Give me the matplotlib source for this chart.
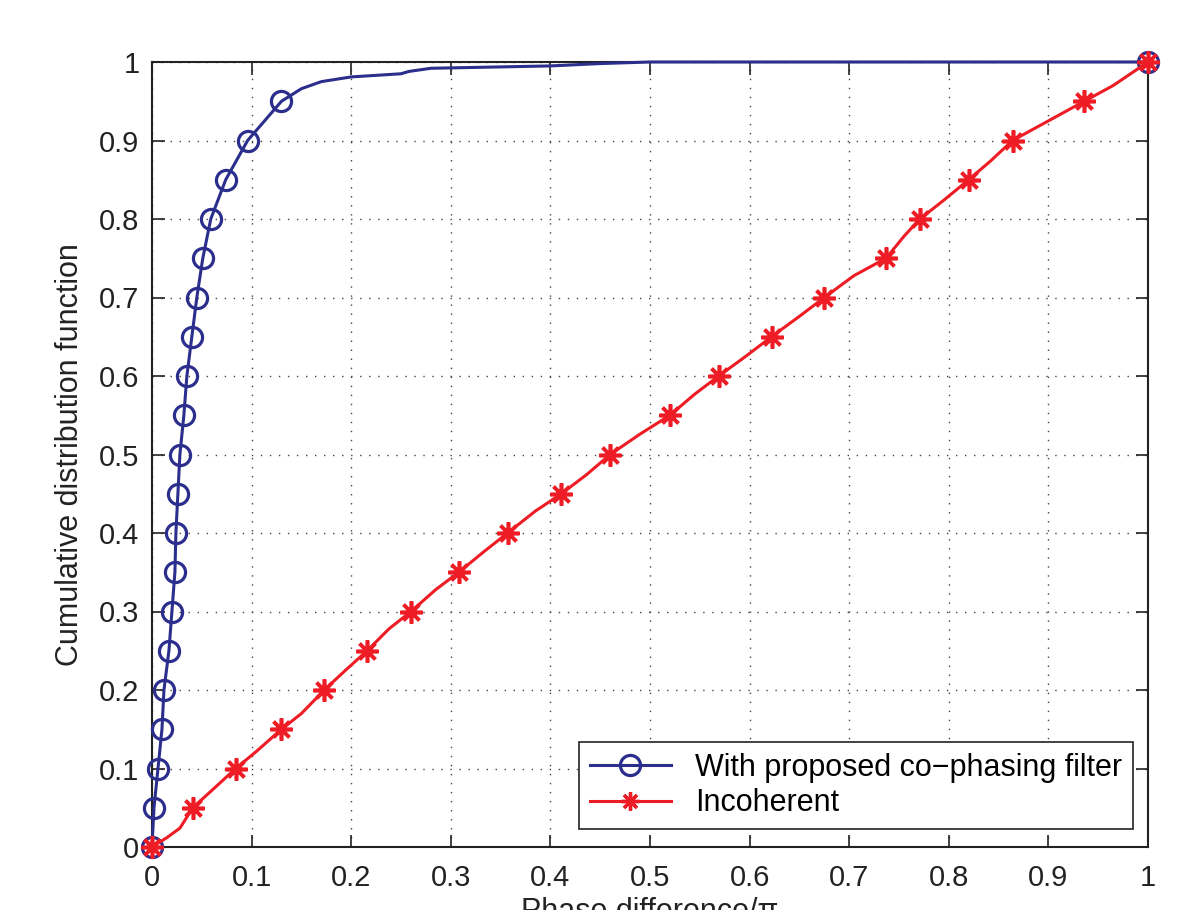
import numpy as np
import matplotlib
matplotlib.use("Agg")
import matplotlib.pyplot as plt
from matplotlib.lines import Line2D

plt.rcParams['font.family'] = ['Liberation Sans', 'DejaVu Sans']

# cdf levels where markers sit
levels = [0, 0.05, 0.1, 0.15, 0.2, 0.25, 0.3, 0.35, 0.4, 0.45, 0.5,
          0.55, 0.6, 0.65, 0.7, 0.75, 0.8, 0.85, 0.9, 0.95, 1.0]

# with proposed co-phasing filter (marker positions)
cophase_x = [0, 0.002, 0.006, 0.010, 0.012, 0.017, 0.020, 0.023, 0.024, 0.026, 0.028,
             0.032, 0.035, 0.040, 0.045, 0.051, 0.059, 0.074, 0.096, 0.130, 1.0]
# curve tail after last marker
cophase_tail_x = [0.150, 0.170, 0.200, 0.250, 0.258, 0.280, 0.400, 0.450, 0.500, 1.0]
cophase_tail_y = [0.966, 0.975, 0.981, 0.985, 0.988, 0.992, 0.995, 0.998, 1.0, 1.0]

# incoherent (marker positions)
incoh_x = [0, 0.041, 0.084, 0.130, 0.173, 0.216, 0.260, 0.308, 0.357, 0.411, 0.460,
           0.520, 0.569, 0.622, 0.675, 0.737, 0.771, 0.820, 0.864, 0.936, 1.0]
# a few extra points along the incoherent curve
incoh_extra_x = [0.015, 0.028, 0.060, 0.105, 0.150, 0.195, 0.238, 0.285, 0.333, 0.385,
                 0.436, 0.490, 0.545, 0.595, 0.650, 0.705, 0.755, 0.795, 0.842, 0.900, 0.965]
incoh_extra_y = [0.012, 0.024, 0.072, 0.122, 0.170, 0.226, 0.278, 0.328, 0.376, 0.428,
                 0.474, 0.526, 0.577, 0.624, 0.676, 0.728, 0.778, 0.824, 0.874, 0.925, 0.970]

xticks = [0, 0.1, 0.2, 0.3, 0.4, 0.5, 0.6, 0.7, 0.8, 0.9, 1]
xticklabels = ['0', '0.1', '0.2', '0.3', '0.4', '0.5', '0.6', '0.7', '0.8', '0.9', '1']

blue = '#2B2E8C'
red = '#EE1C25'

fig = plt.figure(figsize=(11.96, 9.10), dpi=100)
ax = fig.add_axes([152/1196, 63/910, 996/1196, 785/910])

# blue curve: markers then tail
bx = cophase_x[:-1] + cophase_tail_x
by = levels[:-1] + cophase_tail_y
ax.plot(bx, by, color=blue, lw=2.2, clip_on=False, zorder=3)
ax.plot(cophase_x, levels, ls='none', marker='o', ms=14.5, mfc='none', mec=blue,
        mew=2.3, clip_on=False, zorder=4)

# red curve: merge markers with extra points
rpts = sorted(zip(incoh_x + incoh_extra_x, levels + incoh_extra_y))
rx = [p[0] for p in rpts]
ry = [p[1] for p in rpts]
ax.plot(rx, ry, color=red, lw=2.2, clip_on=False, zorder=5)
ax.plot(incoh_x, levels, ls='none', marker=(8, 2, 0), ms=16, mec=red,
        mew=2.6, clip_on=False, zorder=6)

ax.set_xlim(0, 1)
ax.set_ylim(0, 1)
ax.set_xticks(xticks)
ax.set_xticklabels(xticklabels)
ax.set_yticks(xticks)
ax.set_yticklabels(xticklabels)
ax.tick_params(direction='in', length=9, width=1.2, top=True, right=True,
               labelsize=21, colors='#222222')
ax.tick_params(axis='x', pad=12)
ax.tick_params(axis='y', pad=9)
for s in ax.spines.values():
    s.set_linewidth(1.5)
    s.set_color('#222222')
ax.grid(True, color='#444444', lw=1.0, ls=(0, (1, 5.5)))
ax.set_axisbelow(True)

ax.set_ylabel('Cumulative distribution function', fontsize=22, labelpad=10, color='#222222')
ax.set_xlabel('Phase difference/\u03c0', fontsize=22, labelpad=4, color='#222222')

handles = [
    Line2D([], [], color=blue, lw=2.2, marker='o', ms=14.5, mfc='none', mec=blue, mew=2.3),
    Line2D([], [], color=red, lw=2.2, marker=(8, 2, 0), ms=13, mec=red, mew=2.4),
]
leg = ax.legend(handles, ['With proposed co\u2212phasing filter', 'Incoherent'],
                loc='lower right', bbox_to_anchor=(0.985, 0.023), borderaxespad=0,
                fontsize=22, fancybox=False, framealpha=1, edgecolor='#222222',
                handlelength=2.65, handletextpad=0.8, borderpad=0.35, labelspacing=0.18)
leg.get_frame().set_linewidth(1.2)

fig.savefig('out.png', dpi=100)
